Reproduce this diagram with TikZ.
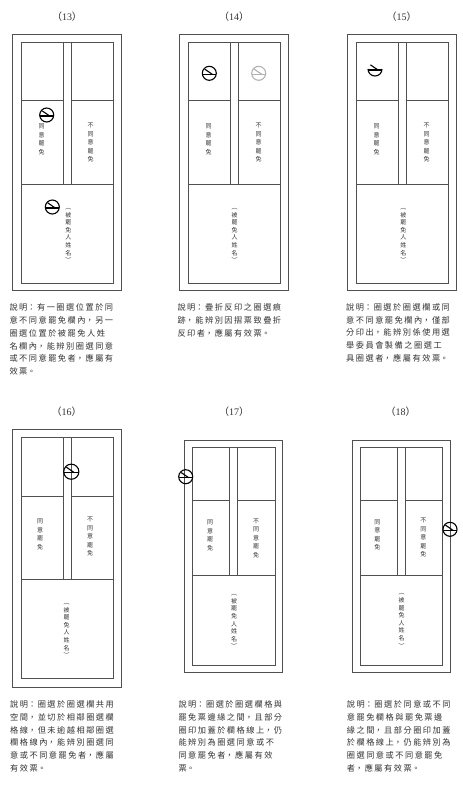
\documentclass[tikz,border=0pt]{standalone}
\usepackage{fontspec}
\setmainfont{Liberation Serif}
\newfontfamily\cjk{Noto Sans CJK TC}
\XeTeXlinebreaklocale "zh"
\XeTeXlinebreakskip=1.5pt plus 0pt minus 0pt
\definecolor{linegray}{HTML}{505050}
\definecolor{textgray}{HTML}{333333}
\tikzset{
  boxline/.style={draw=linegray, line width=0.8pt},
  stampline/.style={draw=black, line width=1.1pt},
  titletext/.style={font=\fontsize{10}{12}\selectfont, text=textgray, inner sep=0pt},
  captext/.style={font=\cjk\fontsize{8.2}{12.7}\selectfont, text width=150pt, align=left, anchor=north west, inner sep=0pt, text=textgray},
  vt/.style={font=\cjk\fontsize{6}{8.5}\selectfont, align=center, inner sep=0pt, text=textgray},
  vtn/.style={font=\cjk\fontsize{6}{7.6}\selectfont, align=center, inner sep=0pt, text=textgray},
  stamp/.pic={
    \draw[stampline] (0,0) circle (7);
    \draw[stampline] (-7,1) -- (7,1);
    \draw[stampline] (-4.6,-4.2) -- (3,1);
  },
  halfstamp/.pic={
    \draw[stampline] (-6.3,3) -- (-7,0) arc (180:0:7) -- (6.3,3);
    \draw[stampline] (-7,1) -- (7,1);
    \draw[stampline] (-4.6,-4.2) -- (3,1);
  }
}
\begin{document}
\begin{tikzpicture}[x=1pt,y=-1pt]
\useasboundingbox (0,0) rectangle (463,801);
\fill[white] (0,0) rectangle (463,801);

% titles
\node[titletext] (t13) at (67,17) {{\cjk （}13{\cjk ）}};
\node[titletext] (t14) at (234,17) {{\cjk （}14{\cjk ）}};
\node[titletext] (t15) at (401.7,17) {{\cjk （}15{\cjk ）}};
\node[titletext] (t16) at (66.7,411.7) {{\cjk （}16{\cjk ）}};
\node[titletext] (t17) at (234,411.7) {{\cjk （}17{\cjk ）}};
\node[titletext] (t18) at (400.7,411.7) {{\cjk （}18{\cjk ）}};

% ---------- panel 13
\draw[boxline] (12.7,34) rectangle (121,290.7);
\draw[boxline] (21.3,42.7) rectangle (113,283.3);
\draw[boxline] (63.3,42.7) -- (63.3,184) (71.3,42.7) -- (71.3,184);
\draw[boxline] (21.3,100.7) -- (63.3,100.7) (71.3,100.7) -- (113,100.7) (21.3,184) -- (113,184);
\node[vt] (a13) at (41.7,139.5) {同\\意\\罷\\免};
\node[vt] (b13) at (90.7,142.5) {不\\同\\意\\罷\\免};
\node[vtn] (n13) at (68.3,235.5) {︵\\被\\罷\\免\\人\\姓\\名\\︶};
\pic at (46.7,115) {stamp};
\pic at (52.3,207) {stamp};

% ---------- panel 14
\draw[boxline] (179.3,34) rectangle (288.3,290.7);
\draw[boxline] (188,42.7) rectangle (280,283.3);
\draw[boxline] (230,42.7) -- (230,184) (238.3,42.7) -- (238.3,184);
\draw[boxline] (188,100.7) -- (230,100.7) (238.3,100.7) -- (280,100.7) (188,184) -- (280,184);
\node[vt] (a14) at (208.7,139.5) {同\\意\\罷\\免};
\node[vt] (b14) at (258.7,142.5) {不\\同\\意\\罷\\免};
\node[vtn] (n14) at (234.7,235.5) {︵\\被\\罷\\免\\人\\姓\\名\\︶};
\pic at (209.3,73.3) {stamp};
\begin{scope}[shift={(258.7,73.3)}, xscale=-1, stampline/.style={draw=black!30, line width=1.1pt}]
\pic at (0,0) {stamp};
\end{scope}

% ---------- panel 15
\draw[boxline] (347.3,34) rectangle (456.7,290.7);
\draw[boxline] (356,42.7) rectangle (448.3,283.3);
\draw[boxline] (398.3,42.7) -- (398.3,184) (406.7,42.7) -- (406.7,184);
\draw[boxline] (356,100.7) -- (398.3,100.7) (406.7,100.7) -- (448.3,100.7) (356,184) -- (448.3,184);
\node[vt] (a15) at (376.7,139.5) {同\\意\\罷\\免};
\node[vt] (b15) at (426.7,142.5) {不\\同\\意\\罷\\免};
\node[vtn] (n15) at (403.3,235.5) {︵\\被\\罷\\免\\人\\姓\\名\\︶};
\pic at (375,69) {halfstamp};

% ---------- panel 16
\draw[boxline] (12.7,429.3) rectangle (121.3,687.3);
\draw[boxline] (21.3,437.7) rectangle (113.7,678.7);
\draw[boxline] (63.3,437.7) -- (63.3,579) (71.3,437.7) -- (71.3,579);
\draw[boxline] (21.3,496) -- (63.3,496) (71.3,496) -- (113.7,496) (21.3,579) -- (113.7,579);
\node[vt] (a16) at (40,534.5) {同\\意\\罷\\免};
\node[vt] (b16) at (90,536.7) {不\\同\\意\\罷\\免};
\node[vtn] (n16) at (66.7,630.5) {︵\\被\\罷\\免\\人\\姓\\名\\︶};
\pic[scale=1.08] at (71.3,471.7) {stamp};

% ---------- panel 17
\draw[boxline] (184,440.7) rectangle (282.3,672.7);
\draw[boxline] (192,447.7) rectangle (275,665.3);
\draw[boxline] (229.3,447.7) -- (229.3,575) (237.3,447.7) -- (237.3,575);
\draw[boxline] (192,500) -- (229.3,500) (237.3,500) -- (275,500) (192,575) -- (275,575);
\node[vt] (a17) at (210,535.3) {同\\意\\罷\\免};
\node[vt] (b17) at (256,538) {不\\同\\意\\罷\\免};
\node[vtn] (n17) at (234,621.7) {︵\\被\\罷\\免\\人\\姓\\名\\︶};
\pic at (185.7,476.7) {stamp};

% ---------- panel 18
\draw[boxline] (352.3,440.7) rectangle (450.7,672.7);
\draw[boxline] (360,447.7) rectangle (442.7,665.3);
\draw[boxline] (397.7,447.7) -- (397.7,575) (405.7,447.7) -- (405.7,575);
\draw[boxline] (360,500) -- (397.7,500) (405.7,500) -- (442.7,500) (360,575) -- (442.7,575);
\node[vt] (a18) at (377.3,535) {同\\意\\罷\\免};
\node[vt] (b18) at (423.3,537.7) {不\\同\\意\\罷\\免};
\node[vtn] (n18) at (401.7,621) {︵\\被\\罷\\免\\人\\姓\\名\\︶};
\pic at (450,529.3) {stamp};

% ---------- captions
\node[captext] (c13) at (9.3,303.8) {說明：有一圈選位置於同\\意不同意罷免欄內，另一\\圈選位置於被罷免人姓\\名欄內，能辨別圈選同意\\或不同意罷免者，應屬有\\效票。};
\node[captext] (c14) at (177.3,303.8) {說明：疊折反印之圈選痕\\跡，能辨別因摺票致疊折\\反印者，應屬有效票。};
\node[captext] (c15) at (346,303.2) {說明：圈選於圈選欄或同\\意不同意罷免欄內，僅部\\分印出，能辨別係使用選\\舉委員會製備之圈選工\\具圈選者，應屬有效票。};
\node[captext] (c16) at (10,700.5) {說明：圈選於圈選欄共用\\空間，並切於相鄰圈選欄\\格線，但未逾越相鄰圈選\\欄格線內，能辨別圈選同\\意或不同意罷免者，應屬\\有效票。};
\node[captext] (c17) at (178.3,700.5) {說明：圈選於圈選欄格與\\罷免票邊緣之間，且部分\\圈印加蓋於欄格線上，仍\\能辨別為圈選同意或不\\同意罷免者，應屬有效\\票。};
\node[captext] (c18) at (346.7,700.5) {說明：圈選於同意或不同\\意罷免欄格與罷免票邊\\緣之間，且部分圈印加蓋\\於欄格線上，仍能辨別為\\圈選同意或不同意罷免\\者，應屬有效票。};
\end{tikzpicture}
\end{document}
